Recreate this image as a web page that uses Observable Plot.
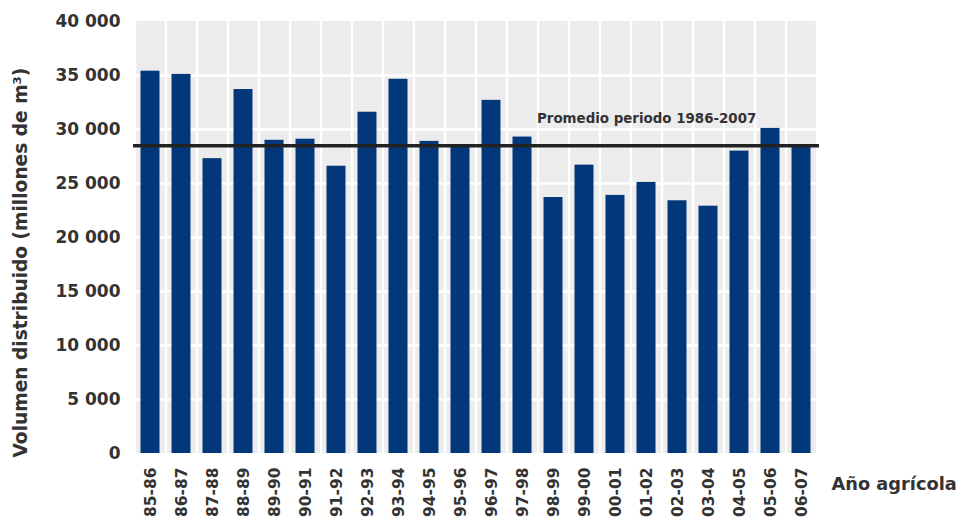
<!DOCTYPE html>
<html><head><meta charset="utf-8">
<script src="https://cdn.jsdelivr.net/npm/d3@7"></script>
<script src="https://cdn.jsdelivr.net/npm/@observablehq/plot@0.6"></script>
<style>html,body{margin:0;padding:0;background:#fff;overflow:hidden;}</style>
</head><body><div id="chart"></div>
<script>
const seasons = ["85-86","86-87","87-88","88-89","89-90","90-91","91-92","92-93","93-94","94-95","95-96","96-97","97-98","98-99","99-00","00-01","01-02","02-03","03-04","04-05","05-06","06-07"];
const volumes = [35400,35100,27300,33700,29000,29100,26600,31600,34650,28900,28400,32700,29300,23700,26700,23900,25100,23400,22900,28000,30100,28400];
const averageValue = 28500;
const averageLabel = "Promedio periodo 1986-2007";
const yTicks = [0,5000,10000,15000,20000,25000,30000,35000,40000];
const yLabel = "Volumen distribuido (millones de m³)";
const xLabel = "Año agrícola";

const data = seasons.map((s, i) => ({season: s, volume: volumes[i]}));
const fmt = d => d3.format(",")(d).replace(/,/g, " ");

const chart = Plot.plot({
  width: 959,
  height: 518,
  marginLeft: 134,
  marginRight: 142,
  marginTop: 21,
  marginBottom: 65,
  style: {fontFamily: "'DejaVu Sans', sans-serif", fontWeight: "bold", fontSize: "16px", color: "#333", background: "#fff"},
  x: {type: "band", domain: seasons, padding: 0},
  y: {domain: [0, 40000]},
  marks: [
    Plot.barY(seasons, {x: d => d, y1: 0, y2: 40000, fill: "#ececec", insetLeft: 1.25, insetRight: 1.25}),
    Plot.ruleY(yTicks.filter(t => t > 0 && t < 40000), {stroke: "#fff", strokeWidth: 2.5}),
    Plot.barY(data, {x: "season", y: "volume", fill: "#02387a", insetLeft: 5.5, insetRight: 6.5}),
    Plot.ruleY([averageValue], {stroke: "#222", strokeWidth: 3.5, insetLeft: -1, insetRight: -2}),
    Plot.text([averageLabel], {x: () => seasons[12], y: () => averageValue, text: d => d, textAnchor: "start", dx: 14, dy: -27, fontSize: 13.4, fill: "#333"}),
    Plot.axisY({ticks: yTicks, tickSize: 0, tickPadding: 14, tickFormat: fmt, label: null, fontSize: 17}),
    Plot.axisX({tickSize: 0, tickPadding: 14, tickRotate: -90, label: null, fontSize: 15.5}),
    Plot.text([yLabel], {frameAnchor: "bottom-left", text: d => d, rotate: -90, textAnchor: "start", dx: -108, dy: 4, fontSize: 18.6, fill: "#333"}),
    Plot.text([xLabel], {frameAnchor: "bottom-right", text: d => d, textAnchor: "start", dx: 14, dy: 36, fontSize: 17.8, fill: "#333"})
  ]
});
document.getElementById("chart").appendChild(chart);
</script>
</body></html>
